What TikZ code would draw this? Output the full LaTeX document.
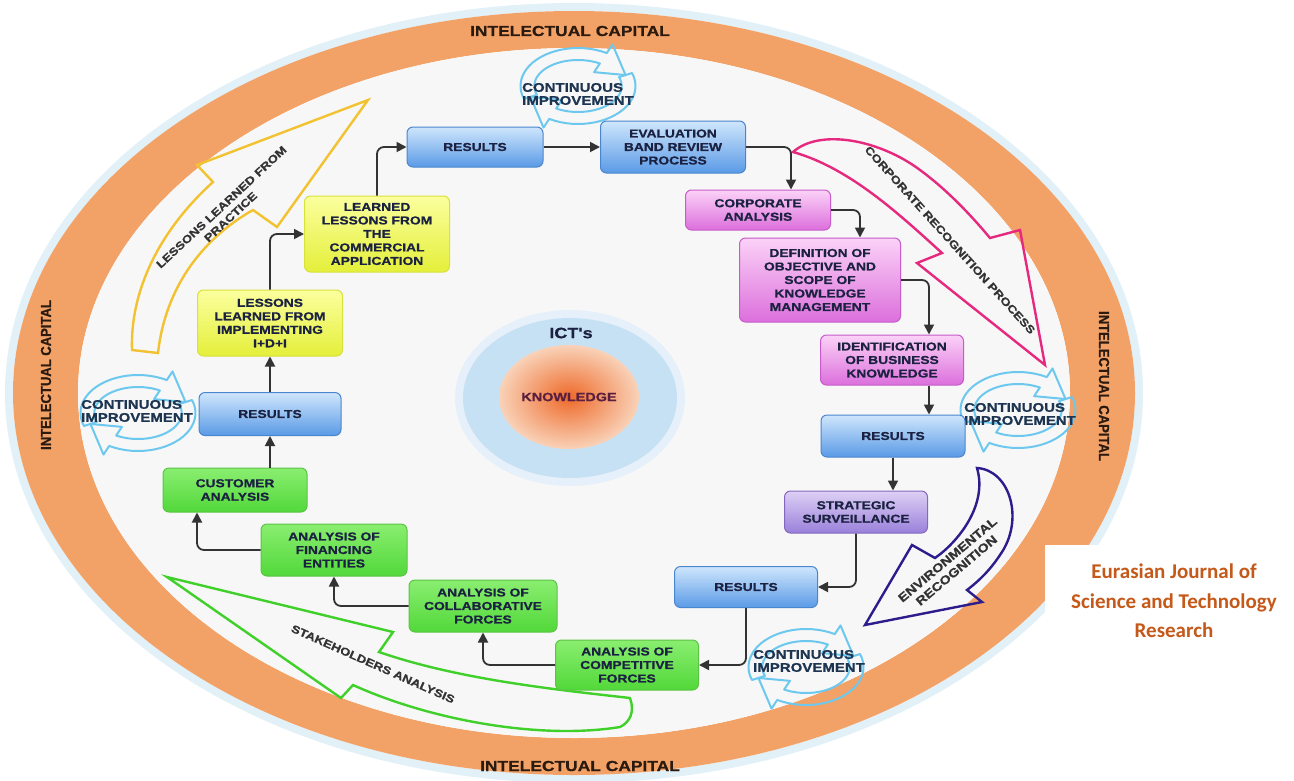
\documentclass[tikz,border=0pt]{standalone}
\usepackage{fontspec}
\setmainfont{Liberation Sans}
\newfontfamily\lab[FakeStretch=1.2, BoldFeatures={FakeBold=0.8}]{Liberation Sans}
\newfontfamily\sidefont[FakeStretch=0.9, BoldFeatures={FakeBold=0.8}]{Liberation Sans}
\newfontfamily\jfont{Carlito}
\usetikzlibrary{arrows.meta}
\definecolor{ringcol}{HTML}{F3A267}
\definecolor{insidecol}{HTML}{F7F7F7}
\definecolor{glowcol}{HTML}{CFE6F3}
\definecolor{cicol}{HTML}{6CC8EE}
\definecolor{citxt}{HTML}{1E3552}
\definecolor{txt}{HTML}{1B2140}
\definecolor{conncol}{HTML}{333333}
\definecolor{yelarr}{HTML}{F2C230}
\definecolor{magarr}{HTML}{E6287E}
\definecolor{navarr}{HTML}{2C1C8C}
\definecolor{grnarr}{HTML}{40D02A}
\definecolor{ringtxt}{HTML}{2A1A10}
\definecolor{jcol}{HTML}{C4591A}
\definecolor{bluetop}{HTML}{CFE6FC}
\definecolor{bluebot}{HTML}{5A9AE6}
\definecolor{blueedge}{HTML}{4A86CF}
\definecolor{magtop}{HTML}{FBD2F7}
\definecolor{magbot}{HTML}{DC6FDC}
\definecolor{magedge}{HTML}{C75BC9}
\definecolor{purtop}{HTML}{DDD0F5}
\definecolor{purbot}{HTML}{9A80DA}
\definecolor{puredge}{HTML}{8468C0}
\definecolor{grntop}{HTML}{8AEE70}
\definecolor{grnbot}{HTML}{52D83A}
\definecolor{grnedge}{HTML}{5CC445}
\definecolor{yeltop}{HTML}{FBFF9E}
\definecolor{yelbot}{HTML}{E4EF3A}
\definecolor{yeledge}{HTML}{D8E23C}
\definecolor{ictblue}{HTML}{C7E1F4}
\definecolor{ictrim}{HTML}{E6F0FA}
\definecolor{knowin}{HTML}{EE6A2A}
\definecolor{knowout}{HTML}{F9D2B8}
\definecolor{knowtxt}{HTML}{5B1F3F}
\tikzset{
  box/.style={rounded corners=6pt, draw, line width=1pt, align=center, inner sep=2pt,
    font=\lab\bfseries\fontsize{11.5}{13.5}\selectfont, text=txt},
  bluebox/.style={box, top color=bluetop, bottom color=bluebot, draw=blueedge},
  magbox/.style={box, top color=magtop, bottom color=magbot, draw=magedge},
  purbox/.style={box, top color=purtop, bottom color=purbot, draw=puredge},
  grnbox/.style={box, top color=grntop, bottom color=grnbot, draw=grnedge},
  yelbox/.style={box, top color=yeltop, bottom color=yelbot, draw=yeledge},
  conn/.style={draw=conncol, line width=1.8pt, rounded corners=7pt, -{Triangle[length=10pt,width=10pt]}},
  bigarrow/.style={line width=2.4pt, line join=miter},
  cistyle/.style={draw=cicol, line width=2pt, line join=round},
  citext/.style={font=\lab\bfseries\fontsize{12.5}{13}\selectfont, text=citxt, align=left, inner sep=0pt},
  biglab/.style={font=\lab\bfseries\fontsize{11}{13.5}\selectfont, text=conncol, align=center, inner sep=0pt},
  ringlab/.style={font=\lab\bfseries\fontsize{14.5}{16}\selectfont, text=ringtxt, inner sep=0pt},
  sidelab/.style={font=\sidefont\bfseries\fontsize{14.5}{16}\selectfont, text=ringtxt, inner sep=0pt}
}
\newcommand\ciicon[1]{%
  \begin{scope}[shift={#1}, yscale=-1, xscale=1.15]
    \draw[cistyle] plot[domain=200:60,samples=25] ({50*cos(\x)},{38*sin(\x)}) -- (60:60 and 48) -- (20:44 and 32) -- (60:28 and 16) -- plot[domain=60:200,samples=25] ({38*cos(\x)},{26*sin(\x)}) -- cycle;
    \begin{scope}[rotate=180]
      \draw[cistyle] plot[domain=200:60,samples=25] ({50*cos(\x)},{38*sin(\x)}) -- (60:60 and 48) -- (20:44 and 32) -- (60:28 and 16) -- plot[domain=60:200,samples=25] ({38*cos(\x)},{26*sin(\x)}) -- cycle;
    \end{scope}
  \end{scope}}
\begin{document}
\begin{tikzpicture}[x=1pt,y=-1pt]
\useasboundingbox (0,0) rectangle (1294,780);
\fill[white] (0,0) rectangle (1294,780);
% ring
\draw[glowcol, line width=8pt, opacity=0.6] (574,393) ellipse [x radius=565, y radius=386];
\fill[ringcol, even odd rule] (574,393) ellipse [x radius=561, y radius=382] (574,393) ellipse [x radius=496, y radius=345];
\fill[insidecol] (574,393) ellipse [x radius=496, y radius=345];
\node[ringlab] (ictop) at (570,31) {INTELECTUAL CAPITAL};
\node[ringlab] (icbot) at (580,766) {INTELECTUAL CAPITAL};
\node[sidelab, rotate=90] (icleft) at (46,375) {INTELECTUAL CAPITAL};
\node[sidelab, rotate=-90] (icright) at (1104,386) {INTELECTUAL CAPITAL};
% centre
\fill[ictrim] (570,398) ellipse [x radius=115, y radius=88];
\fill[ictblue] (570,398) ellipse [x radius=107, y radius=80];
\shade[inner color=knowin, outer color=knowout] (569,397) ellipse [x radius=70, y radius=52];
\node[font=\lab\bfseries\fontsize{15}{16}\selectfont, text=txt] (ict) at (571,333) {ICT's};
\node[font=\lab\bfseries\fontsize{12}{13}\selectfont, text=knowtxt] (know) at (569,397) {KNOWLEDGE};
% big outlined arrows
\draw[bigarrow, yelarr] (368,100) -- (197,165) -- (213,182) .. controls (160,230) and (130,290) .. (132,350) -- (158,353) .. controls (165,290) and (200,240) .. (253,210) -- (277,227) -- cycle;
\node[biglab, rotate=43] (lessprac) at (226,212) {LESSONS LEARNED FROM\\PRACTICE};
\draw[bigarrow, magarr] (793,152) .. controls (820,128) and (880,140) .. (920,170) .. controls (950,192) and (975,220) .. (990,238) -- (1020,230) -- (1045,365) -- (917,263) -- (942,253) .. controls (900,215) and (850,168) .. (793,152) -- cycle;
\node[biglab, rotate=-48] (corprec) at (950,240) {CORPORATE RECOGNITION PROCESS};
\draw[bigarrow, navarr] (977,468) .. controls (1010,470) and (1025,520) .. (1000,555) .. controls (990,570) and (980,580) .. (967,590) -- (982,602) -- (865,625) -- (912,545) -- (935,558) .. controls (958,542) and (988,505) .. (977,468) -- cycle;
\node[biglab, rotate=40, font=\lab\bfseries\fontsize{12}{14}\selectfont] (envrec) at (952,565) {ENVIRONMENTAL\\RECOGNITION};
\draw[bigarrow, grnarr] (167,577) -- (393,632) -- (379,652) .. controls (460,680) and (560,690) .. (630,698) .. controls (635,712) and (630,722) .. (620,727) .. controls (540,740) and (430,720) .. (353,685) -- (341,698) -- cycle;
\node[biglab, rotate=-24] (stake) at (373,664) {STAKEHOLDERS ANALYSIS};
% continuous improvement icons
\ciicon{(578,86)}
\ciicon{(138,413)}
\ciicon{(1018,410)}
\ciicon{(806,667)}
\node[citext] (ci1) at (578,94) {CONTINUOUS\\IMPROVEMENT};
\node[citext] (ci2) at (137,411) {CONTINUOUS\\IMPROVEMENT};
\node[citext] (ci3) at (1020,414) {CONTINUOUS\\IMPROVEMENT};
\node[citext] (ci4) at (809,661) {CONTINUOUS\\IMPROVEMENT};
% process boxes
\node[bluebox, minimum width=136pt, minimum height=40pt] (resT) at (475,147) {RESULTS};
\node[bluebox, minimum width=145pt, minimum height=52pt] (eval) at (673,147) {EVALUATION\\BAND REVIEW\\PROCESS};
\node[magbox, minimum width=145pt, minimum height=40pt] (corp) at (758,210) {CORPORATE\\ANALYSIS};
\node[magbox, minimum width=161pt, minimum height=84pt] (def) at (820,280) {DEFINITION OF\\OBJECTIVE AND\\SCOPE OF\\KNOWLEDGE\\MANAGEMENT};
\node[magbox, minimum width=143pt, minimum height=50pt] (ident) at (892,360) {IDENTIFICATION\\OF BUSINESS\\KNOWLEDGE};
\node[bluebox, minimum width=144pt, minimum height=42pt] (resR) at (893,436) {RESULTS};
\node[purbox, minimum width=143pt, minimum height=42pt] (strat) at (856,512) {STRATEGIC\\SURVEILLANCE};
\node[bluebox, minimum width=143pt, minimum height=41pt] (resB) at (746,587) {RESULTS};
\node[grnbox, minimum width=143pt, minimum height=50pt] (comp) at (627,665) {ANALYSIS OF\\COMPETITIVE\\FORCES};
\node[grnbox, minimum width=148pt, minimum height=52pt] (coll) at (483,606) {ANALYSIS OF\\COLLABORATIVE\\FORCES};
\node[grnbox, minimum width=146pt, minimum height=52pt] (fin) at (334,550) {ANALYSIS OF\\FINANCING\\ENTITIES};
\node[grnbox, minimum width=144pt, minimum height=44pt] (cust) at (235,490) {CUSTOMER\\ANALYSIS};
\node[bluebox, minimum width=142pt, minimum height=43pt] (resL) at (270,414) {RESULTS};
\node[yelbox, minimum width=145pt, minimum height=66pt] (les1) at (270,323) {LESSONS\\LEARNED FROM\\IMPLEMENTING\\I+D+I};
\node[yelbox, minimum width=145pt, minimum height=76pt] (les2) at (377,234) {LEARNED\\LESSONS FROM\\THE\\COMMERCIAL\\APPLICATION};
% connectors
\coordinate (corpin) at ([xshift=33pt]corp.north);
\coordinate (defin) at ([xshift=40pt]def.north);
\coordinate (identin) at ([xshift=37pt]ident.north);
\coordinate (identout) at ([xshift=37pt]ident.south);
\coordinate (custin) at ([xshift=-38pt]cust.south);
\draw[conn] (resL.south |- cust.north) -- (resL.south);
\draw[conn] (resL.north) -- (les1.south);
\draw[conn] (les1.north) |- (les2.west);
\draw[conn] (les2.north) |- (resT.west);
\draw[conn] (resT.east) -- (eval.west);
\draw[conn] (eval.east) -| (corpin);
\draw[conn] (corp.east) -| (defin);
\draw[conn] (def.east) -| (identin);
\draw[conn] (identout) -- (identout |- resR.north);
\draw[conn] (resR.south) -- (resR.south |- strat.north);
\draw[conn] (strat.south) |- (resB.east);
\draw[conn] (resB.south) |- (comp.east);
\draw[conn] (comp.west) -| (coll.south);
\draw[conn] (coll.west) -| (fin.south);
\draw[conn] (fin.west) -| (custin);
% journal label
\fill[white] (1045,545) rectangle (1294,655);
\node[font=\jfont\bfseries\fontsize{21}{29.5}\selectfont, text=jcol, align=center] (journal) at (1174,601) {Eurasian Journal of\\Science and Technology\\Research};
\end{tikzpicture}
\end{document}
